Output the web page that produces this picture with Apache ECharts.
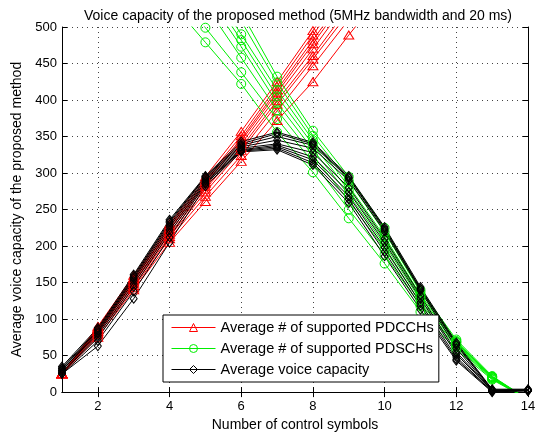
<!DOCTYPE html>
<html>
<head>
<meta charset="utf-8">
<script src="https://cdn.jsdelivr.net/npm/echarts@6/dist/echarts.min.js"></script>
<style>html,body{margin:0;padding:0;background:#fff}#c{width:543px;height:437px}</style>
</head>
<body>
<div id="c"></div>
<script>
// x positions (number of control symbols)
const symbols = [1, 2, 3, 4, 5, 6, 7, 8, 9, 10, 11, 12, 13, 14];
const xTicks = [2, 4, 6, 8, 10, 12, 14];
const yTicks = [0, 50, 100, 150, 200, 250, 300, 350, 400, 450, 500];

// Average # of supported PDCCHs (red), values at x = 1,2,3,...
const pdcchRuns = [
  [25, 90, 160, 230, 295, 357, 425, 495, 565],
  [25, 88, 157, 227, 291, 351, 419, 489, 558],
  [25, 87, 155, 224, 288, 347, 414, 482, 550],
  [25, 86, 153, 222, 286, 344, 410, 477, 545],
  [25, 84, 151, 219, 282, 340, 405, 470, 537],
  [25, 83, 149, 216, 278, 335, 399, 461, 527],
  [25, 81, 146, 213, 274, 331, 394, 456, 520],
  [25, 79, 143, 210, 268, 324, 385, 447, 510],
  [25, 75, 140, 205, 261, 316, 372, 425, 489, 550]
];

// Average # of supported PDSCHs (green), values at x = 1..14 (null = not drawn)
const pdschRuns = [
  [null, null, null, null, 590, 520, 432, 358, 295, 225, 140, 72, 22, -10],
  [null, null, null, null, 578, 508, 424, 351, 289, 219, 137, 70, 21, -10],
  [null, null, null, null, 565, 490, 414, 345, 282, 213, 133, 69, 21, -10],
  [null, null, null, null, 555, 482, 405, 339, 276, 208, 130, 68, 20, -10],
  [null, null, null, null, 545, 473, 396, 332, 270, 202, 126, 66, 20, -10],
  [null, null, null, null, 530, 458, 386, 324, 262, 196, 122, 64, 19, -10],
  [null, null, null, 560, 499, 438, 374, 315, 250, 188, 118, 62, 18, -10],
  [null, null, null, 536, 479, 422, 356, 301, 238, 176, 110, 58, 17, -10]
];

// Average voice capacity (black), values at x = 1..14
const voiceRuns = [
  [35, 88, 161, 236, 296, 343, 356, 342, 296, 226, 144, 68, 4, 4],
  [33, 86, 159, 234, 295, 340, 354, 340, 294, 224, 142, 66, 3, 3],
  [32, 84, 157, 232, 294, 338, 350, 338, 293, 222, 141, 64, 3, 3],
  [30, 82, 155, 229, 292, 336, 345, 334, 290, 220, 139, 60, 2, 3],
  [30, 80, 152, 226, 290, 334, 340, 328, 280, 210, 132, 55, 2, 2],
  [28, 77, 148, 222, 288, 332, 338, 322, 274, 205, 128, 52, 2, 2],
  [27, 74, 144, 218, 286, 331, 336, 318, 268, 198, 122, 48, 1, 2],
  [25, 70, 138, 212, 285, 330, 334, 314, 264, 192, 118, 45, 1, 2],
  [25, 63, 128, 205, 282, 329, 332, 311, 259, 186, 113, 43, 0, 2]
];

const names = ['Average # of supported PDCCHs', 'Average # of supported PDSCHs', 'Average voice capacity'];
const FONT = 'Liberation Sans, Arial, Helvetica, sans-serif';

function toPairs(run) {
  const out = [];
  run.forEach((v, i) => { if (v !== null && v !== undefined) out.push([symbols[i], v]); });
  return out;
}
function mk(run, name, color, symbol, size) {
  return {
    type: 'line', name: name, data: toPairs(run),
    symbol: symbol, symbolSize: size, clip: true,
    lineStyle: { color: color, width: 1 },
    itemStyle: { color: 'rgba(255,255,255,0)', borderColor: color, borderWidth: 1 },
    emphasis: { disabled: true }, animation: false
  };
}
const series = [];
pdcchRuns.forEach(r => series.push(mk(r, names[0], '#ff0000', 'triangle', [10, 8])));
pdschRuns.forEach(r => series.push(mk(r, names[1], '#00ee00', 'circle', 9)));
voiceRuns.forEach(r => series.push(mk(r, names[2], '#000000', 'diamond', [7, 9])));

const axisCommon = {
  axisLine: { show: true, lineStyle: { color: '#000', width: 1 } },
  axisTick: { show: true, inside: true, length: 5, lineStyle: { color: '#000' } }
};

const chart = echarts.init(document.getElementById('c'), null, { renderer: 'canvas' });
chart.setOption({
  animation: false,
  backgroundColor: '#fff',
  title: {
    text: 'Voice capacity of the proposed method (5MHz bandwidth and 20 ms)',
    left: 293, top: 4, textAlign: 'center',
    textStyle: { fontFamily: FONT, fontSize: 14, fontWeight: 'normal', color: '#000' }
  },
  grid: { left: 62, right: 15, top: 27, bottom: 44 },
  legend: {
    data: names, orient: 'vertical', left: 163, top: 315,
    backgroundColor: '#fff', borderColor: '#000', borderWidth: 1,
    padding: [5, 5, 5, 8], itemGap: 6, itemWidth: 44, itemHeight: 10,
    lineStyle: { width: 1 },
    itemStyle: { borderWidth: 1 },
    textStyle: { fontFamily: FONT, fontSize: 14.5, color: '#000' },
    selectedMode: false
  },
  xAxis: [
    Object.assign({
      type: 'value', min: 1, max: 14, position: 'bottom',
      name: 'Number of control symbols', nameLocation: 'middle', nameGap: 24,
      nameTextStyle: { fontFamily: FONT, fontSize: 14, color: '#000' },
      axisLabel: { customValues: xTicks, fontFamily: FONT, fontSize: 13, color: '#000', margin: 8 },
      splitLine: { show: true, lineStyle: { color: '#444', type: [1, 4], width: 1 } }
    }, axisCommon, { axisTick: { show: true, inside: true, length: 5, customValues: xTicks, lineStyle: { color: '#000' } } }),
    Object.assign({
      type: 'value', min: 1, max: 14, position: 'top',
      axisLabel: { show: false }, splitLine: { show: false }
    }, axisCommon, { axisTick: { show: true, inside: true, length: 5, customValues: xTicks, lineStyle: { color: '#000' } } })
  ],
  yAxis: [
    Object.assign({
      type: 'value', min: 0, max: 500, interval: 50, position: 'left',
      name: 'Average voice capacity of the proposed method', nameLocation: 'middle', nameGap: 37,
      nameTextStyle: { fontFamily: FONT, fontSize: 14, color: '#000' },
      axisLabel: { fontFamily: FONT, fontSize: 13, color: '#000', margin: 5 },
      splitLine: { show: true, lineStyle: { color: '#444', type: [1, 4], width: 1 } }
    }, axisCommon),
    Object.assign({
      type: 'value', min: 0, max: 500, interval: 50, position: 'right',
      axisLabel: { show: false }, splitLine: { show: false }
    }, axisCommon)
  ],
  series: series
});
</script>
</body>
</html>
